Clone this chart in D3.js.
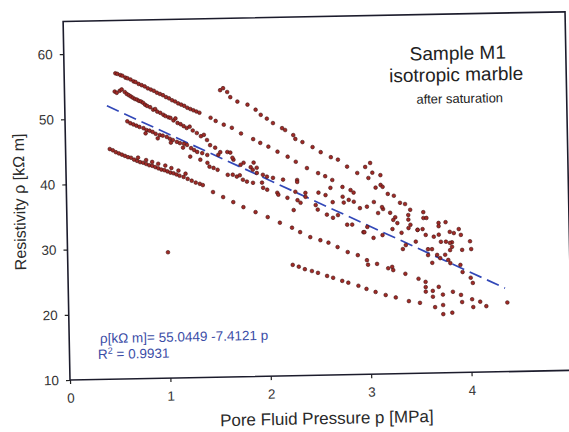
<!DOCTYPE html>
<html>
<head>
<meta charset="utf-8">
<script src="https://cdn.jsdelivr.net/npm/d3@7"></script>
<style>
  body { margin: 0; background: #fff; }
  svg { display: block; font-family: "Liberation Sans", Arial, sans-serif; }
</style>
</head>
<body>
<div id="chart"></div>
<script>
// pressure p [MPa], resistivity rho [kOhm m], one array per loading run
const cycle1 = [
  [0.51,56.9],[0.53,56.8],[0.56,56.6],[0.58,56.5],[0.61,56.2],[0.63,56.1],[0.66,55.9],[0.69,55.6],
  [0.71,55.5],[0.74,55.2],[0.77,55.0],[0.80,54.8],[0.83,54.5],[0.86,54.3],[0.89,54.1],[0.92,53.8],
  [0.95,53.6],[0.98,53.4],[1.01,53.1],[1.04,52.9],[1.07,52.6],[1.10,52.4],[1.13,52.1],[1.16,51.9],
  [1.19,51.7],[1.22,51.4],[1.25,51.2],[1.28,51.0],[1.31,50.8],[1.34,50.6],
  [1.45,49.8],[1.50,49.3],[1.58,48.7],[1.66,48.2],[1.75,47.3],[1.87,46.4],[1.94,45.8],[2.02,45.2],
  [2.11,44.4],[2.21,43.6],[2.29,42.8],[2.40,41.8],[2.51,41.0],[2.58,40.5],[2.65,39.9],[2.75,38.8],
  [2.83,38.3],[3.06,36.4],[3.15,35.3],[3.22,34.7],[3.27,34.0],[3.29,33.1],[3.40,33.6],[3.42,32.8],
  [3.49,32.0],[3.54,32.1],[3.57,31.2],[3.65,30.9],[3.72,30.1],[3.83,30.0],[3.93,28.8]
];
const cycle2 = [
  [1.55,54.0],[1.58,54.3],[1.62,53.7],[1.65,52.9],[1.72,52.2],[1.82,51.7],[1.90,50.9],[1.95,50.1],
  [2.01,49.5],[2.07,48.8],[2.16,48.0],[2.19,47.7],[2.27,46.9],[2.29,46.3],[2.36,45.8],[2.46,45.0],
  [2.54,44.2],[2.64,43.4],[2.71,43.0],[2.80,41.9],[2.90,40.9],[2.98,41.8],[3.03,42.4],[3.01,40.1],
  [3.05,40.9],[3.13,40.5],[3.08,38.6],[3.13,39.0],[3.15,38.7],[3.20,37.6],[3.26,37.3],[3.32,36.2],
  [3.37,36.0],[3.42,35.1],[3.55,34.7],[3.55,33.8],[3.58,33.8],[3.70,33.0],[3.77,33.1],[3.70,32.5],
  [3.81,31.6],[3.85,31.4],[3.90,32.0],[3.92,31.1],[4.01,30.1],[4.02,28.9]
];
const cycle3 = [
  [0.50,54.1],[0.52,53.9],[0.55,54.2],[0.57,54.4],[0.60,54.0],[0.62,53.7],[0.64,53.5],[0.66,53.3],
  [0.68,53.1],[0.70,52.9],[0.72,52.8],[0.74,52.6],[0.76,52.5],[0.78,52.3],[0.80,52.0],[0.82,51.8],
  [0.85,51.6],[0.88,51.2],[0.90,51.3],[0.92,50.9],[0.95,50.7],[0.98,50.4],[1.00,50.2],[1.03,50.0],
  [1.05,49.9],[1.08,49.5],[1.10,49.8],[1.12,49.1],[1.15,48.9],[1.18,48.6],[1.21,48.3],[1.24,48.5],
  [1.27,47.9],[1.31,47.5],[1.35,47.0],[1.38,47.2],[1.41,46.4],[1.44,45.6],[1.49,45.2],[1.52,44.1],
  [1.54,44.5],[1.61,44.5],[1.64,44.4],[1.67,43.3],[1.66,43.6],[1.77,42.8],[1.84,42.1],[1.74,42.5],
  [1.87,42.8],[1.90,42.0],[1.90,41.2],[1.96,40.9],[2.00,40.6],[2.06,40.4],[2.16,40.1],[2.30,40.0],
  [2.30,39.7],[2.28,38.2],[2.38,38.0],[2.38,37.4],[2.51,38.0],[2.58,37.6],[2.63,38.7],[2.75,37.3],
  [2.81,36.8],[2.86,37.9],[2.86,36.5],[2.65,36.5],[2.76,36.4],[2.92,35.5],[2.99,35.7],[3.10,34.7],
  [3.14,35.6],[3.25,33.6],[3.40,34.3],[3.40,32.3],[3.49,32.0],[3.70,31.2],[3.77,30.1],[3.81,29.9],
  [3.83,29.3],[3.81,28.8]
];
const cycle4 = [
  [0.62,49.5],[0.65,49.2],[0.68,49.0],[0.71,48.8],[0.74,48.6],[0.78,48.4],[0.81,48.1],[0.84,48.0],
  [0.87,47.8],[0.90,47.5],[0.94,47.3],[0.97,47.2],[1.01,47.0],[1.04,46.7],[1.07,46.5],[1.11,46.2],
  [1.14,46.0],[1.18,45.9],[1.21,45.7],[1.25,45.2],[1.28,44.9],[1.31,44.6],[1.36,44.4],[1.41,44.1],
  [0.80,47.6],[0.92,46.8],[1.05,46.1],[1.17,45.3],[1.24,43.9],[1.34,43.4],
  [1.41,42.9],[1.47,42.1],[1.43,42.3],[1.51,41.8],[1.61,41.0],[1.66,41.0],[1.70,40.7],[1.73,40.9],
  [1.76,40.2],[1.80,39.9],[1.86,39.7],[1.86,41.7],[1.95,39.7],[1.96,38.9],[2.00,38.6],[2.10,38.1],
  [2.11,37.8],[2.20,37.3],[2.30,36.9],[2.33,36.5],[2.48,36.1],[2.26,35.4],[2.50,35.4],[2.59,34.6],
  [2.65,34.1],[2.70,34.5],[2.79,33.0],[2.84,33.0],[2.95,31.8],[2.99,32.6],
  [2.96,31.8],[3.05,30.9],[3.14,31.3],[3.24,32.2],[3.33,31.6],[3.47,30.2],[3.34,29.1],[3.37,29.7],
  [3.59,29.0],[3.63,29.0],[3.68,28.1],[3.76,28.1],[3.59,28.1],[3.71,27.6],[3.79,27.3],[3.81,26.8],
  [3.63,26.9],[3.91,26.5],[3.93,25.4],[4.01,24.5],[4.03,23.7]
];
const cycle5 = [
  [0.44,45.3],[0.47,45.1],[0.50,44.8],[0.53,44.6],[0.56,44.4],[0.59,44.2],[0.62,44.0],[0.65,43.9],
  [0.68,43.6],[0.71,43.4],[0.74,43.2],[0.77,43.1],[0.80,42.9],[0.83,42.7],[0.86,42.6],[0.89,42.4],
  [0.92,42.2],[0.95,42.0],[0.98,41.9],[1.01,41.7],[1.04,41.5],[1.07,41.4],[1.10,41.2],[1.13,41.0],
  [1.17,40.8],[1.21,40.5],[1.25,40.2],[1.29,39.9],[1.33,39.7],
  [0.72,43.9],[0.80,43.5],[0.86,43.2],[0.92,42.9],[0.99,42.6],[1.05,42.2],[1.12,41.8],[1.19,41.3],
  [1.36,39.5],[1.46,38.4],[1.56,37.6],[1.66,36.8],[1.76,36.0],[1.88,35.2],[2.00,34.4],[2.12,33.5],
  [2.24,32.7],[2.32,32.0],[2.42,31.2],[2.52,30.7],[2.60,30.3],[2.69,29.6],[2.79,28.8],[2.89,28.3],
  [2.98,27.5],[2.99,26.8],[3.08,26.9],[3.19,26.2],[3.23,26.4],[3.24,25.9],[3.36,25.3],[3.49,24.5],
  [3.56,24.0],[3.56,23.2],[3.69,23.2],[3.63,22.6],[3.83,22.4],[3.91,21.9],[3.63,21.7],[3.73,22.0],
  [3.56,22.5]
];
const cycle6 = [
  [2.24,27.0],[2.30,26.7],[2.36,26.3],[2.43,26.0],[2.49,25.7],[2.58,25.2],[2.64,24.9],[2.73,24.4],
  [2.79,24.1],[2.89,23.6],[2.97,23.1],[3.06,22.6],[3.16,22.1],[3.26,21.7],[3.39,21.1],[3.50,20.8],
  [3.65,20.1],[3.73,20.4],[3.73,19.0],[3.82,19.2],[3.92,20.8],[4.02,21.2],[4.03,20.0],[4.10,20.8],
  [4.16,20.1],[4.37,20.6]
];
const outliers = [[1.00,29.3]];

// linear fit printed on the chart
const fitA = 55.0449;
const fitB = -7.4121;
const fitRange = [0.42, 4.35];

const xTicks = [0, 1, 2, 3, 4, 5];
const xTickLabels = ["0", "1", "2", "3", "4", ""];
const yTicks = [10, 20, 30, 40, 50, 60];

const config = {
  width: 569,
  height: 432,
  margin: { top: 21.4, left: 70, right: -3, bottom: 52 },
  tilt: -1.1
};

const allPoints = [cycle1, cycle2, cycle3, cycle4, cycle5, cycle6, outliers].flat();

const svg = d3.select("#chart")
  .append("svg")
  .attr("width", config.width)
  .attr("height", config.height);

const innerW = config.width - config.margin.left - config.margin.right;
const innerH = config.height - config.margin.top - config.margin.bottom;

// the scan is slightly rotated, so the whole figure is tilted round the origin
const root = svg.append("g")
  .attr("transform", `rotate(${config.tilt}, ${config.margin.left}, ${config.margin.top + innerH})`);

const g = root.append("g")
  .attr("transform", `translate(${config.margin.left},${config.margin.top})`);

const x = d3.scaleLinear().domain([0, 5]).range([0, innerW]);
const y = d3.scaleLinear().domain([10, 65]).range([innerH, 0]);

const xAxis = g.append("g")
  .attr("transform", `translate(0,${innerH})`)
  .call(d3.axisBottom(x).tickValues(xTicks).tickSize(4).tickPadding(9)
    .tickFormat((d, i) => xTickLabels[i]));

const yAxis = g.append("g")
  .call(d3.axisLeft(y).tickValues(yTicks).tickSize(4).tickPadding(7).tickFormat(d3.format("d")));

[xAxis, yAxis].forEach(a => {
  a.select(".domain").remove();
  a.selectAll("line").attr("stroke", "#222").attr("stroke-width", 1.2);
  a.selectAll("text")
    .attr("fill", "#333")
    .style("font-size", "13.5px")
    .style("font-family", "'Liberation Sans', Arial, sans-serif");
});

g.append("rect")
  .attr("x", 0)
  .attr("y", 0)
  .attr("width", innerW)
  .attr("height", innerH)
  .attr("fill", "none")
  .attr("stroke", "#1c1c2c")
  .attr("stroke-width", 1.6);

// regression line
g.append("line")
  .attr("x1", x(fitRange[0]))
  .attr("y1", y(fitA + fitB * fitRange[0]))
  .attr("x2", x(fitRange[1]))
  .attr("y2", y(fitA + fitB * fitRange[1]))
  .attr("stroke", "#3248b8")
  .attr("stroke-width", 1.7)
  .attr("stroke-dasharray", "13,6");

g.selectAll("circle.pt")
  .data(allPoints)
  .join("circle")
  .attr("class", "pt")
  .attr("cx", d => x(d[0]))
  .attr("cy", d => y(d[1]))
  .attr("r", 1.85)
  .attr("fill", "#a02a26")
  .attr("stroke", "#421210")
  .attr("stroke-width", 0.6);

// labels
root.append("text")
  .attr("transform", "translate(28.4,201) rotate(-90)")
  .attr("text-anchor", "middle")
  .attr("fill", "#2a2a2a")
  .style("font-size", "16px")
  .text("Resistivity ρ [kΩ m]");

root.append("text")
  .attr("x", 326)
  .attr("y", 429)
  .attr("text-anchor", "middle")
  .attr("fill", "#2a2a2a")
  .style("font-size", "17px")
  .text("Pore Fluid Pressure p [MPa]");

root.append("text")
  .attr("x", 464)
  .attr("y", 67)
  .attr("text-anchor", "middle")
  .attr("fill", "#222")
  .style("font-size", "19px")
  .text("Sample M1");

root.append("text")
  .attr("x", 462)
  .attr("y", 88.5)
  .attr("text-anchor", "middle")
  .attr("fill", "#222")
  .style("font-size", "19px")
  .text("isotropic marble");

root.append("text")
  .attr("x", 465)
  .attr("y", 110.5)
  .attr("text-anchor", "middle")
  .attr("fill", "#222")
  .style("font-size", "13px")
  .text("after saturation");

root.append("text")
  .attr("x", 100.7)
  .attr("y", 343.6)
  .attr("fill", "#3a4ca6")
  .style("font-size", "13.5px")
  .text(`ρ[kΩ m]= ${fitA} ${fitB} p`);

const r2 = root.append("text")
  .attr("x", 98.4)
  .attr("y", 359.5)
  .attr("fill", "#3a4ca6")
  .style("font-size", "13.5px");
r2.append("tspan").text("R");
r2.append("tspan").attr("dy", -5).style("font-size", "9px").text("2");
r2.append("tspan").attr("dy", 5).text(" = 0.9931");
</script>
</body>
</html>
